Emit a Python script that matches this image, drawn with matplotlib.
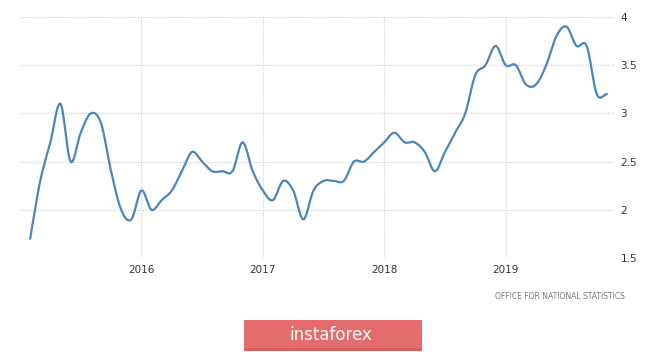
import numpy as np
import matplotlib
matplotlib.use("Agg")
import matplotlib.pyplot as plt
from matplotlib.patches import Rectangle

# Monthly values, Feb 2015 .. Nov 2019
start_year = 2015
start_month = 2
values = [1.7, 2.3, 2.7, 3.1, 2.5, 2.8, 3.0, 2.9, 2.4, 2.0, 1.9,          # 2015 Feb-Dec
          2.2, 2.0, 2.1, 2.2, 2.4, 2.6, 2.5, 2.4, 2.4, 2.4, 2.7, 2.4,     # 2016
          2.2, 2.1, 2.3, 2.2, 1.9, 2.2, 2.3, 2.3, 2.3, 2.5, 2.5, 2.6,     # 2017
          2.7, 2.8, 2.7, 2.7, 2.6, 2.4, 2.6, 2.8, 3.0, 3.4, 3.5, 3.7,     # 2018
          3.5, 3.5, 3.3, 3.3, 3.5, 3.8, 3.9, 3.7, 3.7, 3.2, 3.2]          # 2019 Jan-Nov
year_ticks = [2016, 2017, 2018, 2019]
y_ticks = [1.5, 2, 2.5, 3, 3.5, 4]
y_tick_labels = ["1.5", "2", "2.5", "3", "3.5", "4"]
source = "OFFICE FOR NATIONAL STATISTICS"
brand = "instaforex"

v = np.array(values, dtype=float)
t = start_year + (start_month - 1 + np.arange(len(v))) / 12.0

# Catmull-Rom smoothing for rendering the line through the monthly points
def catmull(x, y, n=12):
    xs, ys = [], []
    px = np.concatenate([[2 * x[0] - x[1]], x, [2 * x[-1] - x[-2]]])
    py = np.concatenate([[2 * y[0] - y[1]], y, [2 * y[-1] - y[-2]]])
    s = np.linspace(0, 1, n, endpoint=False)
    for i in range(1, len(px) - 2):
        p0, p1, p2, p3 = py[i - 1], py[i], py[i + 1], py[i + 2]
        q0, q1, q2, q3 = px[i - 1], px[i], px[i + 1], px[i + 2]
        f = lambda a0, a1, a2, a3: 0.5 * ((2 * a1) + (-a0 + a2) * s +
                                          (2 * a0 - 5 * a1 + 4 * a2 - a3) * s ** 2 +
                                          (-a0 + 3 * a1 - 3 * a2 + a3) * s ** 3)
        xs.append(f(q0, q1, q2, q3))
        ys.append(f(p0, p1, p2, p3))
    xs.append([x[-1]])
    ys.append([y[-1]])
    return np.concatenate(xs), np.concatenate(ys)

sx, sy = catmull(t, v)

W, H = 665, 352
fig = plt.figure(figsize=(W / 100, H / 100), dpi=100)
fig.patch.set_facecolor("white")
ax = fig.add_axes([20 / W, 1 - 258 / H, (615 - 20) / W, (258 - 17) / H])
ax.plot(sx, sy, color="#4a86bd", lw=1.6, solid_capstyle="round", zorder=3)

ax.set_xlim(2015.0, 2019.9)
ax.set_ylim(1.5, 4.0)
ax.set_xticks(year_ticks)
ax.set_xticklabels([str(y) for y in year_ticks])
ax.set_yticks(y_ticks)
ax.set_yticklabels(y_tick_labels)
ax.yaxis.tick_right()
for s in ax.spines.values():
    s.set_visible(False)
ax.tick_params(axis="both", length=0, labelsize=7.5, colors="#333333")
ax.tick_params(axis="y", pad=4)
ax.tick_params(axis="x", pad=5)
ax.grid(True, color="#d2d2d2", linestyle=(0, (1, 1)), lw=0.9)
ax.set_axisbelow(True)

fig.text(625 / W, 1 - 296.5 / H, source, ha="right", va="center",
         fontsize=5.5, color="#7a7a7a")

box = Rectangle((244 / W, 1 - 351 / H), (422 - 244) / W, 31 / H,
                transform=fig.transFigure, facecolor="#e46c6c",
                edgecolor="none")
fig.patches.append(box)
band = Rectangle((244 / W, 1 - 351 / H), (422 - 244) / W, 3 / H,
                 transform=fig.transFigure, facecolor="#d46060",
                 edgecolor="none")
fig.patches.append(band)
fig.text(331 / W, 1 - 335.5 / H, brand, ha="center", va="center",
         fontsize=12, color="white")

fig.savefig("out.png", dpi=100, facecolor="white")
